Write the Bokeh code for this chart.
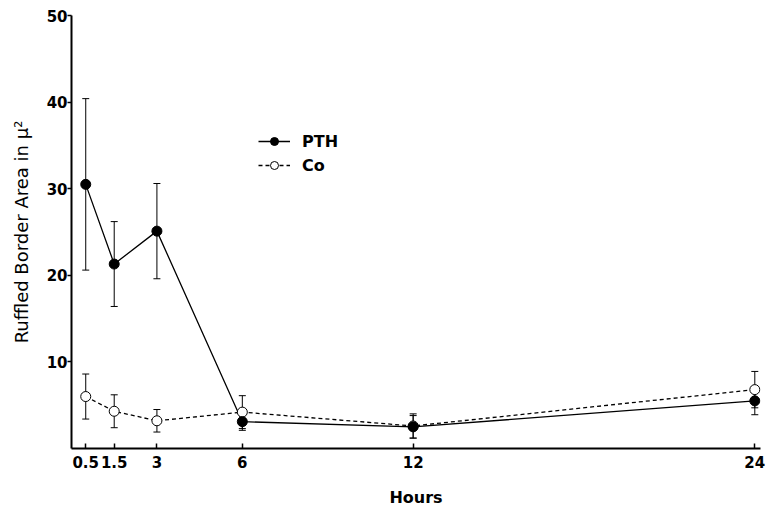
from bokeh.plotting import figure
from bokeh.models import ColumnDataSource, Whisker, Range1d, FixedTicker, Legend, LegendItem, TeeHead
from bokeh.embed import file_html
from bokeh.resources import INLINE

hours = [0.5, 1.5, 3, 6, 12, 24]
tick_labels = ["0.5", "1.5", "3", "6", "12", "24"]
pth_mean = [30.5, 21.3, 25.1, 3.1, 2.5, 5.5]
pth_err = [9.9, 4.9, 5.5, 1.0, 1.3, 1.6]
co_mean = [6.0, 4.3, 3.2, 4.2, 2.6, 6.8]
co_err = [2.6, 1.9, 1.3, 1.9, 1.4, 2.1]

FONT = "DejaVu Sans"

pth = ColumnDataSource(dict(x=hours, y=pth_mean,
                            lo=[m - e for m, e in zip(pth_mean, pth_err)],
                            hi=[m + e for m, e in zip(pth_mean, pth_err)]))
co = ColumnDataSource(dict(x=hours, y=co_mean,
                           lo=[m - e for m, e in zip(co_mean, co_err)],
                           hi=[m + e for m, e in zip(co_mean, co_err)]))

p = figure(frame_width=689, frame_height=433, output_backend="svg", toolbar_location=None,
           x_range=Range1d(0, 24.2), y_range=Range1d(0, 50),
           min_border_left=71, min_border_right=8, min_border_top=15, min_border_bottom=55)
p.outline_line_color = None
p.xgrid.visible = False
p.ygrid.visible = False
p.background_fill_color = "white"

# axes
p.xaxis.ticker = FixedTicker(ticks=hours)
p.xaxis.major_label_overrides = {h: l for h, l in zip(hours, tick_labels)}
p.yaxis.ticker = FixedTicker(ticks=[10, 20, 30, 40, 50])
for ax in (p.xaxis[0], p.yaxis[0]):
    ax.axis_line_width = 2
    ax.axis_line_color = "black"
    ax.major_tick_line_color = "black"
    ax.major_tick_line_width = 1.5
    ax.minor_tick_line_color = None
    ax.major_label_text_font = FONT
    ax.major_label_text_font_style = "bold"
    ax.major_label_text_font_size = "15px"
    ax.major_label_text_color = "black"
    ax.axis_label_text_font = FONT
    ax.axis_label_text_color = "black"
p.xaxis.axis_label_text_font_style = "bold"
p.xaxis.axis_label_text_font_size = "16px"
p.yaxis.axis_label_text_font_style = "normal"
p.yaxis.axis_label_text_font_size = "18px"
p.xaxis.major_tick_in = 5
p.xaxis.major_tick_out = 0
p.yaxis.major_tick_in = 0
p.yaxis.major_tick_out = 4
p.xaxis.axis_label = "Hours"
p.yaxis.axis_label = "Ruffled Border Area in \u03bc\u00b2"
p.xaxis.major_label_standoff = 7
p.xaxis.axis_label_standoff = 17
p.yaxis.major_label_standoff = 0
p.yaxis.axis_label_standoff = 12

# error bars
for src in (pth, co):
    w = Whisker(source=src, base="x", lower="lo", upper="hi", line_color="black", line_width=1,
                upper_head=TeeHead(size=7, line_color="black", line_width=1),
                lower_head=TeeHead(size=7, line_color="black", line_width=1))
    p.add_layout(w)

l_co = p.line("x", "y", source=co, line_color="black", line_width=1.3, line_dash="4 3")
l_pth = p.line("x", "y", source=pth, line_color="black", line_width=1.3)
s_co = p.scatter("x", "y", source=co, size=10, fill_color="white", line_color="black", line_width=1)
s_pth = p.scatter("x", "y", source=pth, size=10, fill_color="black", line_color="black")

legend = Legend(items=[LegendItem(label="PTH", renderers=[l_pth, s_pth]),
                       LegendItem(label="Co", renderers=[l_co, s_co])],
                location=(187, 273), padding=0, margin=0, spacing=4,
                glyph_width=32, glyph_height=20, label_standoff=12,
                label_text_font=FONT, label_text_font_style="bold", label_text_font_size="16px",
                label_text_color="black",
                border_line_color=None, background_fill_alpha=0)
p.add_layout(legend)

open("out.html", "w").write(file_html(p, INLINE))
